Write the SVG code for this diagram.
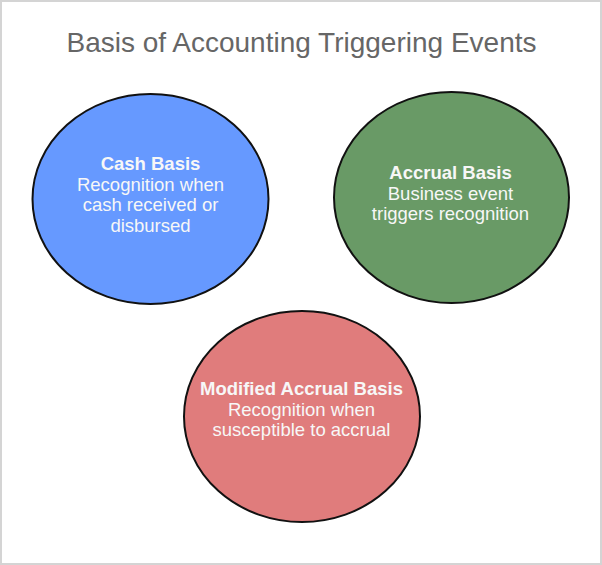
<svg xmlns="http://www.w3.org/2000/svg" width="602" height="565" viewBox="0 0 602 565">
  <style>
    .title { font-family: "Liberation Sans", Arial, sans-serif; font-size: 28px; fill: #666666; text-anchor: middle; }
    .node { stroke: #111111; stroke-width: 2; }
    .lbl { font-family: "Liberation Sans", Arial, sans-serif; font-size: 18.5px; fill: #f7f7f7; text-anchor: middle; }
    .hd { font-weight: bold; }
  </style>
  <rect x="1" y="1" width="600" height="563" fill="#ffffff" stroke="#d4d4d4" stroke-width="2"/>
  <text class="title" x="301.5" y="52">Basis of Accounting Triggering Events</text>
  <g id="connectors"></g>
  <g id="cash-basis">
    <ellipse class="node" cx="150.5" cy="199" rx="118" ry="105" fill="#6699ff"/>
    <text class="lbl hd" x="150.5" y="170">Cash Basis</text>
    <text class="lbl" x="150.5" y="190.5">Recognition when</text>
    <text class="lbl" x="150.5" y="211">cash received or</text>
    <text class="lbl" x="150.5" y="231.5">disbursed</text>
  </g>
  <g id="accrual-basis">
    <ellipse class="node" cx="451.5" cy="197.5" rx="117.5" ry="105.5" fill="#699a66"/>
    <text class="lbl hd" x="450.5" y="179">Accrual Basis</text>
    <text class="lbl" x="450.5" y="199.5">Business event</text>
    <text class="lbl" x="450.5" y="220">triggers recognition</text>
  </g>
  <g id="modified-accrual-basis">
    <ellipse class="node" cx="302" cy="416.5" rx="118" ry="105.5" fill="#e07c7c"/>
    <text class="lbl hd" x="301.5" y="395">Modified Accrual Basis</text>
    <text class="lbl" x="301.5" y="415.5">Recognition when</text>
    <text class="lbl" x="301.5" y="436">susceptible to accrual</text>
  </g>
</svg>
